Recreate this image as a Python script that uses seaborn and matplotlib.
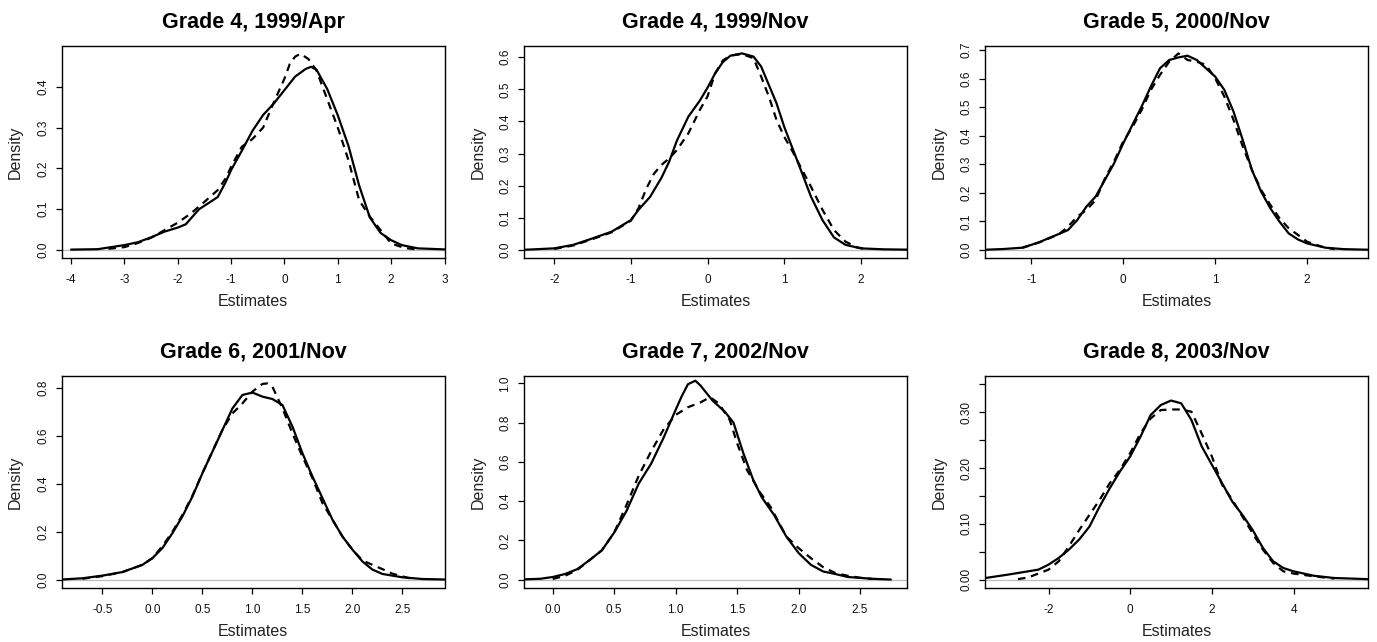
"""Density of ability estimates by grade: two fits per panel, R base-graphics look."""

import matplotlib.pyplot as plt
import pandas as pd
import seaborn as sns

# ---- data -----------------------------------------------------------------
TITLES = ["Grade 4, 1999/Apr", "Grade 4, 1999/Nov", "Grade 5, 2000/Nov",
          "Grade 6, 2001/Nov", "Grade 7, 2002/Nov", "Grade 8, 2003/Nov"]

APR99_SOLID_X = [-4.0, -3.5, -3.0, -2.75, -2.5, -2.25, -2.0, -1.85, -1.75, -1.6, -1.4, -1.25,
                 -1.1, -1.0, -0.8, -0.6, -0.4, -0.2, 0.0, 0.2, 0.4, 0.5, 0.6, 0.8, 1.0, 1.2,
                 1.4, 1.6, 1.8, 2.0, 2.2, 2.5, 3.0]
APR99_SOLID_Y = [0.001, 0.002, 0.012, 0.019, 0.031, 0.045, 0.055, 0.063, 0.078, 0.100, 0.117,
                 0.130, 0.167, 0.196, 0.243, 0.292, 0.331, 0.359, 0.392, 0.425, 0.444, 0.449,
                 0.442, 0.395, 0.330, 0.255, 0.158, 0.080, 0.042, 0.024, 0.012, 0.004, 0.0015]
APR99_DASH_X = [-3.3, -3.0, -2.75, -2.5, -2.0, -1.75, -1.5, -1.25, -1.1, -1.0, -0.8, -0.6,
                -0.4, -0.2, 0.0, 0.1, 0.2, 0.3, 0.45, 0.6, 0.8, 1.0, 1.2, 1.4, 1.6, 1.8,
                2.0, 2.25, 2.5]
APR99_DASH_Y = [0.003, 0.007, 0.017, 0.030, 0.067, 0.090, 0.118, 0.147, 0.176, 0.204, 0.253,
                0.272, 0.300, 0.362, 0.420, 0.456, 0.474, 0.481, 0.468, 0.440, 0.370, 0.300,
                0.220, 0.122, 0.082, 0.049, 0.016, 0.005, 0.001]

NOV99_SOLID_X = [-2.4, -2.0, -1.75, -1.5, -1.25, -1.0, -0.9, -0.75, -0.6, -0.5, -0.4, -0.25,
                 -0.1, 0.0, 0.1, 0.2, 0.3, 0.45, 0.6, 0.7, 0.8, 0.9, 1.0, 1.1, 1.2, 1.35, 1.5,
                 1.65, 1.8, 2.0, 2.3, 2.6]
NOV99_SOLID_Y = [0.0005, 0.005, 0.016, 0.036, 0.057, 0.093, 0.125, 0.165, 0.225, 0.275, 0.340,
                 0.415, 0.465, 0.505, 0.550, 0.585, 0.605, 0.612, 0.602, 0.571, 0.514, 0.457,
                 0.384, 0.322, 0.260, 0.166, 0.093, 0.039, 0.016, 0.005, 0.002, 0.001]
NOV99_DASH_X = [-2.0, -1.75, -1.5, -1.25, -1.0, -0.9, -0.8, -0.7, -0.6, -0.5, -0.4, -0.25,
                -0.1, 0.0, 0.1, 0.2, 0.3, 0.45, 0.6, 0.7, 0.8, 0.9, 1.0, 1.1, 1.2, 1.35, 1.5,
                1.65, 1.8, 1.95, 2.1]
NOV99_DASH_Y = [0.003, 0.014, 0.034, 0.055, 0.091, 0.130, 0.190, 0.237, 0.265, 0.285, 0.311,
                0.363, 0.436, 0.478, 0.550, 0.590, 0.605, 0.610, 0.597, 0.540, 0.478, 0.405,
                0.353, 0.311, 0.265, 0.197, 0.125, 0.062, 0.026, 0.008, 0.002]

NOV00_SOLID_X = [-1.5, -1.3, -1.1, -1.0, -0.9, -0.8, -0.7, -0.6, -0.5, -0.4, -0.3, -0.2, -0.1,
                 0.0, 0.1, 0.2, 0.3, 0.4, 0.5, 0.6, 0.7, 0.8, 0.9, 1.0, 1.1, 1.2, 1.3, 1.4,
                 1.5, 1.6, 1.7, 1.8, 1.9, 2.0, 2.2, 2.4, 2.66]
NOV00_SOLID_Y = [0.001, 0.0035, 0.008, 0.018, 0.029, 0.043, 0.056, 0.070, 0.105, 0.152, 0.187,
                 0.245, 0.303, 0.373, 0.438, 0.502, 0.572, 0.636, 0.665, 0.674, 0.680, 0.665,
                 0.636, 0.607, 0.560, 0.484, 0.385, 0.280, 0.204, 0.146, 0.099, 0.058, 0.037,
                 0.023, 0.008, 0.003, 0.001]
NOV00_DASH_X = [-1.1, -0.9, -0.7, -0.6, -0.5, -0.4, -0.3, -0.2, -0.1, 0.0, 0.1, 0.2, 0.3, 0.4,
                0.5, 0.6, 0.7, 0.8, 0.9, 1.0, 1.1, 1.2, 1.3, 1.4, 1.5, 1.6, 1.7, 1.8, 1.9,
                2.0, 2.1, 2.2, 2.3]
NOV00_DASH_Y = [0.007, 0.028, 0.055, 0.082, 0.117, 0.140, 0.175, 0.250, 0.310, 0.380, 0.430,
                0.490, 0.560, 0.613, 0.659, 0.688, 0.665, 0.659, 0.648, 0.601, 0.537, 0.455,
                0.362, 0.280, 0.210, 0.158, 0.111, 0.076, 0.053, 0.029, 0.018, 0.008, 0.003]

NOV01_SOLID_X = [-0.9, -0.7, -0.5, -0.3, -0.1, 0.0, 0.1, 0.2, 0.3, 0.4, 0.5, 0.6, 0.7, 0.8,
                 0.9, 1.0, 1.1, 1.2, 1.3, 1.4, 1.5, 1.6, 1.7, 1.8, 1.9, 2.0, 2.1, 2.2, 2.3,
                 2.5, 2.7, 2.92]
NOV01_SOLID_Y = [0.001, 0.006, 0.017, 0.032, 0.062, 0.090, 0.132, 0.194, 0.264, 0.347, 0.444,
                 0.534, 0.624, 0.714, 0.770, 0.780, 0.763, 0.753, 0.728, 0.638, 0.527, 0.430,
                 0.340, 0.250, 0.180, 0.125, 0.076, 0.042, 0.024, 0.010, 0.003, 0.001]
NOV01_DASH_X = [-0.7, -0.5, -0.3, -0.1, 0.0, 0.1, 0.2, 0.3, 0.4, 0.5, 0.6, 0.7, 0.8, 0.9,
                1.0, 1.1, 1.15, 1.2, 1.3, 1.4, 1.5, 1.6, 1.7, 1.8, 1.9, 2.0, 2.1, 2.2, 2.3,
                2.4, 2.5, 2.6]
NOV01_DASH_Y = [0.004, 0.015, 0.032, 0.062, 0.090, 0.140, 0.200, 0.270, 0.350, 0.445, 0.535,
                0.625, 0.693, 0.735, 0.784, 0.816, 0.818, 0.804, 0.714, 0.610, 0.513, 0.423,
                0.319, 0.250, 0.180, 0.125, 0.080, 0.062, 0.044, 0.025, 0.014, 0.003]

NOV02_SOLID_X = [-0.23, -0.1, 0.0, 0.1, 0.2, 0.3, 0.4, 0.5, 0.6, 0.7, 0.8, 0.9, 1.0, 1.05,
                 1.1, 1.16, 1.2, 1.3, 1.4, 1.47, 1.55, 1.63, 1.7, 1.8, 1.9, 2.0, 2.1, 2.2, 2.3,
                 2.4, 2.6, 2.75]
NOV02_SOLID_Y = [0.002, 0.005, 0.014, 0.029, 0.054, 0.100, 0.150, 0.240, 0.350, 0.490, 0.590,
                 0.720, 0.865, 0.935, 0.995, 1.013, 0.990, 0.912, 0.855, 0.800, 0.645, 0.510,
                 0.420, 0.330, 0.220, 0.136, 0.076, 0.042, 0.029, 0.014, 0.005, 0.001]
NOV02_DASH_X = [0.0, 0.1, 0.2, 0.3, 0.4, 0.5, 0.6, 0.7, 0.8, 0.9, 1.0, 1.1, 1.2, 1.28, 1.35,
                1.44, 1.5, 1.58, 1.69, 1.77, 1.9, 2.0, 2.1, 2.2, 2.3, 2.4, 2.5, 2.6]
NOV02_DASH_Y = [0.004, 0.020, 0.050, 0.100, 0.150, 0.240, 0.380, 0.530, 0.653, 0.763, 0.839,
                0.878, 0.902, 0.929, 0.898, 0.813, 0.695, 0.559, 0.441, 0.373, 0.220, 0.161,
                0.110, 0.064, 0.034, 0.020, 0.010, 0.004]

NOV03_SOLID_X = [-3.55, -3.0, -2.5, -2.25, -2.0, -1.75, -1.5, -1.25, -1.0, -0.75, -0.5, -0.25,
                 0.0, 0.25, 0.5, 0.75, 1.0, 1.25, 1.5, 1.75, 2.0, 2.25, 2.5, 2.75, 3.0, 3.25,
                 3.5, 3.75, 4.0, 4.5, 5.0, 5.82]
NOV03_SOLID_Y = [0.003, 0.009, 0.015, 0.018, 0.027, 0.039, 0.054, 0.072, 0.095, 0.131, 0.164,
                 0.194, 0.221, 0.256, 0.295, 0.313, 0.321, 0.316, 0.286, 0.239, 0.206, 0.173,
                 0.140, 0.116, 0.089, 0.057, 0.033, 0.021, 0.015, 0.007, 0.003, 0.001]
NOV03_DASH_X = [-2.75, -2.5, -2.0, -1.75, -1.5, -1.25, -1.0, -0.75, -0.5, -0.25, 0.0, 0.25,
                0.5, 0.75, 1.0, 1.25, 1.5, 1.75, 2.0, 2.25, 2.5, 2.75, 3.0, 3.25, 3.5, 3.75,
                4.0, 4.5, 5.0]
NOV03_DASH_Y = [0.001, 0.004, 0.018, 0.033, 0.060, 0.089, 0.116, 0.143, 0.173, 0.197, 0.227,
                0.262, 0.289, 0.304, 0.305, 0.305, 0.301, 0.262, 0.221, 0.170, 0.143, 0.113,
                0.083, 0.054, 0.030, 0.015, 0.011, 0.006, 0.002]

X_TICKS = [[-4, -3, -2, -1, 0, 1, 2, 3], [-2, -1, 0, 1, 2], [-1, 0, 1, 2],
           [-0.5, 0.0, 0.5, 1.0, 1.5, 2.0, 2.5], [0.0, 0.5, 1.0, 1.5, 2.0, 2.5], [-2, 0, 2, 4]]
Y_TICKS = [[0.0, 0.1, 0.2, 0.3, 0.4], [0.0, 0.1, 0.2, 0.3, 0.4, 0.5, 0.6],
           [0.0, 0.1, 0.2, 0.3, 0.4, 0.5, 0.6, 0.7], [0.0, 0.2, 0.4, 0.6, 0.8],
           [0.0, 0.2, 0.4, 0.6, 0.8, 1.0], [0.0, 0.05, 0.10, 0.15, 0.20, 0.25, 0.30, 0.35]]
X_FMT = ["{:.0f}", "{:.0f}", "{:.0f}", "{:.1f}", "{:.1f}", "{:.0f}"]
Y_FMT = ["{:.1f}", "{:.1f}", "{:.1f}", "{:.1f}", "{:.1f}", "{:.2f}"]

X_LIMS = [(-4.17, 3.0), (-2.39, 2.60), (-1.50, 2.66), (-0.904, 2.92), (-0.231, 2.88), (-3.55, 5.82)]
Y_LIMS = [(-0.0196, 0.50), (-0.025, 0.635), (-0.028, 0.714), (-0.0345, 0.849), (-0.042, 1.037),
          (-0.0149, 0.365)]

CURVES = [
    (APR99_SOLID_X, APR99_SOLID_Y, APR99_DASH_X, APR99_DASH_Y),
    (NOV99_SOLID_X, NOV99_SOLID_Y, NOV99_DASH_X, NOV99_DASH_Y),
    (NOV00_SOLID_X, NOV00_SOLID_Y, NOV00_DASH_X, NOV00_DASH_Y),
    (NOV01_SOLID_X, NOV01_SOLID_Y, NOV01_DASH_X, NOV01_DASH_Y),
    (NOV02_SOLID_X, NOV02_SOLID_Y, NOV02_DASH_X, NOV02_DASH_Y),
    (NOV03_SOLID_X, NOV03_SOLID_Y, NOV03_DASH_X, NOV03_DASH_Y),
]

sns.set_theme(style="ticks")
plt.rcParams["font.family"] = ["Liberation Sans", "DejaVu Sans"]

W, H = 1377, 642
COL_LEFT = [62, 524.3, 985.3]
ROW_TOP = [46, 376]
BOX_W, BOX_H = 382.5, 212

fig = plt.figure(figsize=(W / 100, H / 100), dpi=100)
fig.patch.set_facecolor("white")

for i, title in enumerate(TITLES):
    left, top = COL_LEFT[i % 3], ROW_TOP[i // 3]
    ax = fig.add_axes([left / W, 1 - (top + BOX_H) / H, BOX_W / W, BOX_H / H])
    sx, sy, dx, dy = CURVES[i]
    df = pd.concat([
        pd.DataFrame({"x": sx, "y": sy, "fit": "solid"}),
        pd.DataFrame({"x": dx, "y": dy, "fit": "dashed"}),
    ])
    ax.axhline(0, color="#BEBEBE", lw=0.9, zorder=1)
    sns.lineplot(data=df, x="x", y="y", style="fit", color="black", lw=1.6,
                 dashes={"solid": "", "dashed": (3.4, 2.6)}, legend=False, ax=ax, zorder=3)

    ax.set_xlim(X_LIMS[i])
    ax.set_ylim(Y_LIMS[i])
    ax.set_xticks(X_TICKS[i])
    ax.set_xticklabels([X_FMT[i].format(v) for v in X_TICKS[i]])
    ax.set_yticks(Y_TICKS[i])
    ylabels = [Y_FMT[i].format(v) for v in Y_TICKS[i]]
    if i == 5:
        ylabels = [lab if k % 2 == 0 else "" for k, lab in enumerate(ylabels)]
    ax.set_yticklabels(ylabels, rotation=90, va="center")
    ax.tick_params(axis="both", direction="out", length=4.3, width=0.9, color="black",
                   labelsize=8.5, labelcolor="#111111", pad=5)
    ax.tick_params(axis="x", pad=7)
    for sp in ax.spines.values():
        sp.set_visible(True)
        sp.set_color("black")
        sp.set_linewidth(1.0)

    ax.set_xlabel("Estimates", fontsize=11.5, color="#222222")
    ax.set_ylabel("Density", fontsize=11.5, color="#222222")
    ax.xaxis.set_label_coords(0.5, -36 / BOX_H)
    ax.yaxis.set_label_coords(-39 / BOX_W, 0.5)
    ax.text(0.5, 1 + 18 / BOX_H, title, transform=ax.transAxes, ha="center", va="baseline",
            fontsize=15.5, fontweight="bold", color="black")

fig.savefig("out.png", dpi=100, facecolor="white")
plt.close(fig)
